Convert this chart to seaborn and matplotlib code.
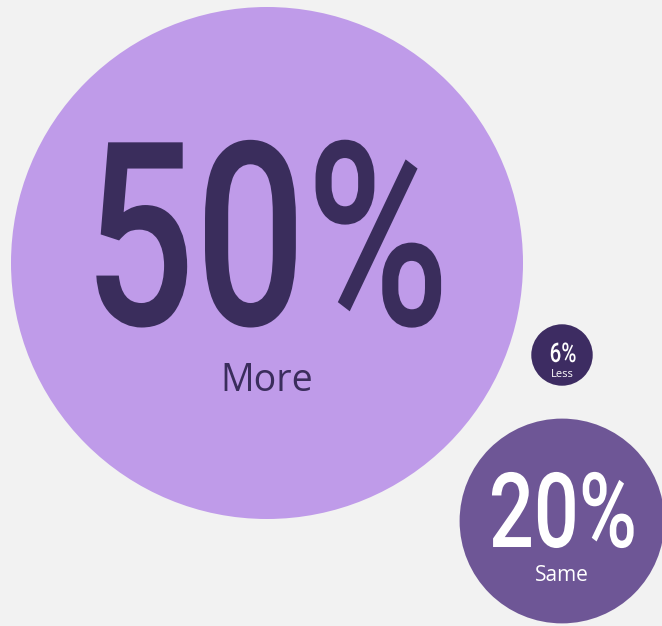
import numpy as np
import pandas as pd
import matplotlib
matplotlib.use("Agg")
import matplotlib.pyplot as plt
import seaborn as sns
from matplotlib.path import Path
from matplotlib.transforms import Affine2D
from matplotlib.patheffects import AbstractPathEffect

# ---- data ----
labels = ["More", "Less", "Same"]
values = [50, 6, 20]

# ---- layout (pixel space of a 662x626 canvas) ----
centers_x = [267, 562, 562]
centers_y = [263, 355, 521]
px_per_unit = 5.12          # bubble radius per percentage point
fill_colors = ["#bf9be9", "#3d2c62", "#6e5696"]
text_colors = ["#3a2d5c", "#ffffff", "#ffffff"]
value_font_pt = [185, 19.5, 75]
value_base_y = [325, 362, 547]
value_dx = [-1, 1, 1]
label_font_pt = [27, 8, 15]
label_base_y = [391, 377, 581]

W, H, DPI = 662, 626, 100
BG = "#f2f2f2"


class Condense(AbstractPathEffect):
    """Squeeze glyphs horizontally around the centre of the text line."""

    def __init__(self, sx):
        super().__init__()
        self.sx = sx

    def draw_path(self, renderer, gc, tpath, affine, rgbFace=None):
        v = tpath.vertices
        codes = tpath.codes
        if codes is not None:
            v = v[codes != Path.CLOSEPOLY]
        cx = (v[:, 0].min() + v[:, 0].max()) / 2 if len(v) else 0.0
        t = Affine2D().translate(-cx, 0).scale(self.sx, 1).translate(cx, 0) + affine
        renderer.draw_path(gc, tpath, t, rgbFace)


df = pd.DataFrame({"label": labels, "value": values,
                   "x": centers_x, "y": centers_y})

# marker area (pt^2) so that the radius is proportional to the value
diam_pt = {l: 2 * v * px_per_unit * 72 / DPI for l, v in zip(labels, values)}
sizes = {l: d ** 2 for l, d in diam_pt.items()}
palette = dict(zip(labels, fill_colors))

sns.set_theme(style="white")
fig = plt.figure(figsize=(W / DPI, H / DPI), dpi=DPI, facecolor=BG)
ax = fig.add_axes([0, 0, 1, 1])
ax.set_facecolor(BG)

sns.scatterplot(data=df, x="x", y="y", hue="label", size="label",
                sizes=sizes, palette=palette, linewidth=0, alpha=1,
                legend=False, ax=ax)

ax.set_xlim(0, W)
ax.set_ylim(H, 0)
ax.set_axis_off()

for i, row in df.iterrows():
    ax.text(row["x"] + value_dx[i], value_base_y[i], f"{row['value']}%",
            ha="center", va="baseline", fontsize=value_font_pt[i],
            family="Roboto", weight="medium", color=text_colors[i],
            path_effects=[Condense(0.76)])
    ax.text(row["x"], label_base_y[i], row["label"],
            ha="center", va="baseline", fontsize=label_font_pt[i],
            family="Open Sans", color=text_colors[i])

fig.savefig("out.png", dpi=DPI, facecolor=BG)
